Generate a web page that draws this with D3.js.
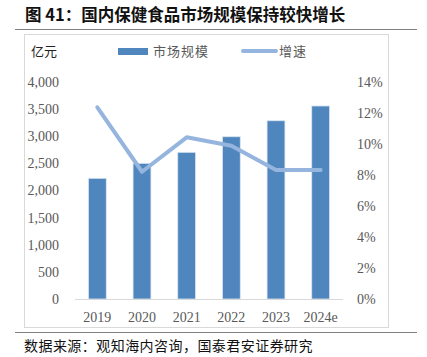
<!DOCTYPE html>
<html><head><meta charset="utf-8">
<script src="https://cdn.jsdelivr.net/npm/d3@7"></script>
<style>body{margin:0;background:#fff;} svg{display:block;}</style>
</head><body>
<svg id="chart" width="427" height="357"></svg>
<script>
const categories = ["2019","2020","2021","2022","2023","2024e"];
const marketSize = [2225, 2501, 2704, 2991, 3286, 3558];
const growth = [12.37, 8.21, 10.43, 9.89, 8.32, 8.32];
const leftTicks = [0,500,1000,1500,2000,2500,3000,3500,4000];
const rightTicks = [0,2,4,6,8,10,12,14];

const svg = d3.select("#chart");
const serif = "'Liberation Serif','Times New Roman',serif";
const cjk = "'Noto Sans CJK SC','Noto Sans CJK JP',sans-serif";

// title
svg.append("text").attr("x",25).attr("y",21).attr("font-family",cjk).attr("font-weight","bold")
  .attr("font-size",16.5).attr("fill","#111").text("图 41：国内保健食品市场规模保持较快增长");
svg.append("line").attr("x1",15).attr("x2",417).attr("y1",29.5).attr("y2",29.5).attr("stroke","#7f7f7f").attr("stroke-width",1);

// chart box
svg.append("rect").attr("x",24.5).attr("y",34.5).attr("width",364).attr("height",293).attr("fill","none").attr("stroke","#d9d9d9");

// source line and text
svg.append("line").attr("x1",15).attr("x2",417).attr("y1",332.5).attr("y2",332.5).attr("stroke","#7f7f7f").attr("stroke-width",1);
svg.append("text").attr("x",24).attr("y",351).attr("font-family",cjk).attr("font-size",14).attr("letter-spacing",0.45).attr("fill","#111")
  .text("数据来源：观知海内咨询，国泰君安证券研究");

const x = d3.scaleBand().domain(categories).range([75,343]).paddingInner(0.6).paddingOuter(0.3);
const yL = d3.scaleLinear().domain([0,4000]).range([299,82]);
const yR = d3.scaleLinear().domain([0,14]).range([299,82]);

// left axis labels
svg.append("g").selectAll("text").data(leftTicks).join("text")
  .attr("x",59).attr("y",d=>yL(d)).attr("dy","0.35em").attr("text-anchor","end")
  .attr("font-family",serif).attr("font-size",14).attr("fill","#595959")
  .text(d=>d3.format(",")(d));
// right axis labels
svg.append("g").selectAll("text").data(rightTicks).join("text")
  .attr("x",357).attr("y",d=>yR(d)).attr("dy","0.35em").attr("text-anchor","start")
  .attr("font-family",serif).attr("font-size",14).attr("fill","#595959")
  .text(d=>d+"%");

// bars
svg.append("g").selectAll("rect").data(categories).join("rect")
  .attr("x",d=>x(d)).attr("width",x.bandwidth())
  .attr("y",(d,i)=>yL(marketSize[i])).attr("height",(d,i)=>yL(0)-yL(marketSize[i]))
  .attr("fill","#4f86bd").attr("stroke","#dbe6f3").attr("stroke-width",0.8);

// baseline
svg.append("line").attr("x1",75).attr("x2",343).attr("y1",299.5).attr("y2",299.5).attr("stroke","#d9d9d9").attr("stroke-width",1);

// x labels
svg.append("g").selectAll("text").data(categories).join("text")
  .attr("x",d=>x(d)+x.bandwidth()/2).attr("y",317).attr("dy","0.35em").attr("text-anchor","middle")
  .attr("font-family",serif).attr("font-size",14).attr("fill","#595959").text(d=>d);

// growth line
const line = d3.line().x((d,i)=>x(categories[i])+x.bandwidth()/2).y(d=>yR(d));
svg.append("path").datum(growth).attr("d",line).attr("fill","none")
  .attr("stroke","#95b5de").attr("stroke-width",4).attr("stroke-linejoin","round").attr("stroke-linecap","round");

// unit
svg.append("text").attr("x",31).attr("y",51).attr("dy","0.35em").attr("font-family",cjk).attr("font-size",13).attr("fill","#222").text("亿元");

// legend
svg.append("rect").attr("x",118).attr("y",48).attr("width",30).attr("height",7).attr("fill","#4f86bd");
svg.append("text").attr("x",153).attr("y",51).attr("dy","0.35em").attr("font-family",cjk).attr("font-size",13).attr("fill","#595959").attr("letter-spacing",1).text("市场规模");
svg.append("line").attr("x1",243).attr("x2",276).attr("y1",51).attr("y2",51).attr("stroke","#95b5de").attr("stroke-width",4).attr("stroke-linecap","round");
svg.append("text").attr("x",279).attr("y",51).attr("dy","0.35em").attr("font-family",cjk).attr("font-size",13).attr("fill","#595959").attr("letter-spacing",1).text("增速");
</script>
</body></html>
